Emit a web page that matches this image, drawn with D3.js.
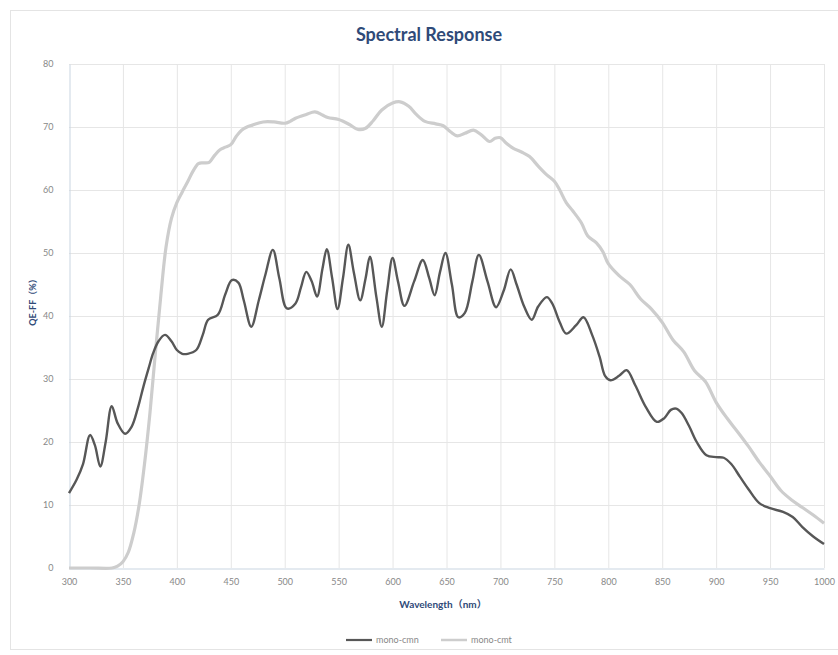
<!DOCTYPE html>
<html>
<head>
<meta charset="utf-8">
<script src="https://cdn.jsdelivr.net/npm/d3@7"></script>
<style>
  body { margin: 0; background: #fff; }
  text { font-family: Lato, "Noto Sans", "Noto Sans CJK SC", sans-serif; }
</style>
</head>
<body>
<script>
const width = 838;
const height = 655;

// mono-cmn (dark)
const cmnWavelength = [300, 307, 313, 319.5, 324, 329, 334, 339.6, 345, 352, 358, 364, 369, 374, 378, 383, 389, 395, 400, 405, 410, 418, 424, 429, 438, 445, 451, 457, 462, 469, 476, 482, 489, 495, 502, 510, 515, 520, 525, 530, 535, 539, 544, 549, 554, 559, 564, 570, 575, 579, 585, 590, 595, 600, 605, 611, 620, 628, 634, 639, 644, 649, 655, 661, 667, 674, 680, 688, 696, 703, 709.5, 715, 722, 729, 735, 743, 748, 755, 761, 770, 777, 785, 792, 797, 802, 810, 817, 825, 835, 845, 852, 858, 863, 868, 875, 882, 891, 900, 907, 914, 922, 930, 940, 950, 962, 971, 980, 990, 1000];
const cmnValues = [11.9, 14, 16.5, 21.1, 19.5, 16.1, 20, 25.7, 23, 21.3, 22.4, 25.5, 28.8, 31.8, 34.1, 36, 37, 36, 34.6, 34, 34, 34.6, 37, 39.4, 40.2, 43.5, 45.7, 45.3, 42.5, 38.3, 42.5, 46.5, 50.5, 46, 41.2, 42, 44.5, 47, 45.5, 43.1, 47.5, 50.6, 46, 41.1, 46, 51.3, 47, 42.5, 46, 49.4, 43, 38.3, 44, 49.2, 45.5, 41.6, 45.5, 48.9, 46, 43.3, 47, 50, 45, 39.8, 40.5, 45.5, 49.7, 45.5, 41.4, 44, 47.4, 45, 41.5, 39.4, 41.5, 43, 42, 39, 37.2, 38.5, 39.8, 37, 33.5, 30.5, 29.8, 30.5, 31.4, 29, 25.5, 23.2, 23.8, 25.1, 25.3, 24.6, 22.5, 20, 17.9, 17.6, 17.5, 16.5, 14.5, 12.5, 10.3, 9.5, 8.9, 8.1, 6.5, 5, 3.8];

// mono-cmt (light)
const cmtWavelength = [300, 320, 340, 345, 350, 355, 360, 365, 370, 375, 380, 385, 390, 395, 400, 405, 410, 415, 420, 425, 430, 435, 440, 445, 450, 455, 460, 465, 470, 480, 490, 500, 505, 510, 520, 528, 535, 540, 550, 560, 568, 575, 582, 590, 600, 607, 615, 622, 630, 640, 647, 654, 660, 667, 675, 682, 690, 695, 700, 705, 712, 720, 727, 735, 743, 750, 755, 761, 767, 775, 781, 789, 795, 800, 810, 820, 830, 840, 850, 860, 870, 880, 890, 900, 910, 920, 930, 940, 950, 960, 970, 980, 990, 1000];
const cmtValues = [0, 0, 0, 0.3, 1, 2.5, 5.5, 10, 16.5, 24.5, 34, 43, 51, 55.5, 58, 59.7, 61.3, 63, 64.2, 64.3, 64.4, 65.5, 66.4, 66.8, 67.2, 68.5, 69.5, 70, 70.3, 70.8, 70.8, 70.6, 70.9, 71.4, 72, 72.4, 71.9, 71.5, 71.2, 70.4, 69.6, 69.8, 71, 72.7, 73.8, 74, 73.3, 72, 70.9, 70.5, 70.2, 69.2, 68.6, 69, 69.5, 68.8, 67.7, 68.2, 68.3, 67.5, 66.6, 66, 65.3, 63.8, 62.4, 61.4, 60, 58, 56.7, 54.8, 52.7, 51.6, 50.2, 48.3, 46.4, 45, 42.7, 41.1, 39, 36.2, 34.3, 31.3, 29.6, 26.3, 23.8, 21.6, 19.3, 16.8, 14.6, 12.3, 10.8, 9.6, 8.4, 7.1];

const xTicks = d3.range(300, 1001, 50);
const yTicks = d3.range(0, 81, 10);
const seriesNames = ["mono-cmn", "mono-cmt"];
const seriesColors = ["#575757", "#cdcdcd"];

const svg = d3.select('body').append('svg')
  .attr('width', width)
  .attr('height', height);

// outer chart border
svg.append('rect')
  .attr('x', 10.5).attr('y', 10.5)
  .attr('width', 840).attr('height', 639)
  .attr('fill', 'none')
  .attr('stroke', '#e4e4e4');

const x = d3.scaleLinear().domain([300, 1000]).range([69, 824]);
const y = d3.scaleLinear().domain([0, 80]).range([568, 64]);

// gridlines
svg.append('g')
  .selectAll('line')
  .data(yTicks.filter(d => d > 0))
  .join('line')
  .attr('x1', x(300)).attr('x2', x(1000))
  .attr('y1', d => y(d) + 0.5).attr('y2', d => y(d) + 0.5)
  .attr('stroke', '#e6e6e6');

svg.append('g')
  .selectAll('line')
  .data(xTicks.filter(d => d > 300))
  .join('line')
  .attr('x1', d => x(d) + 0.5).attr('x2', d => x(d) + 0.5)
  .attr('y1', y(80)).attr('y2', y(0))
  .attr('stroke', '#e6e6e6');

// axes
const xAxis = svg.append('g')
  .attr('transform', `translate(0,${y(0) + 0.5})`)
  .call(d3.axisBottom(x).tickValues(xTicks).tickFormat(d3.format('d')).tickSize(0).tickPadding(10));
const yAxis = svg.append('g')
  .attr('transform', `translate(${x(300) + 0.5},0)`)
  .call(d3.axisLeft(y).tickValues(yTicks).tickSize(0).tickPadding(16));

[xAxis, yAxis].forEach(a => {
  a.select('.domain').attr('stroke', '#c9d5e1');
  a.selectAll('text').attr('fill', '#888').style('font-size', '9px');
});

// lines
const line = d3.line()
  .x(d => x(d[0]))
  .y(d => y(d[1]))
  .curve(d3.curveCatmullRom.alpha(0.5));

svg.append('path')
  .datum(d3.zip(cmtWavelength, cmtValues))
  .attr('d', line)
  .attr('fill', 'none')
  .attr('stroke', seriesColors[1])
  .attr('stroke-width', 3.2)
  .attr('stroke-linejoin', 'round');

svg.append('path')
  .datum(d3.zip(cmnWavelength, cmnValues))
  .attr('d', line)
  .attr('fill', 'none')
  .attr('stroke', seriesColors[0])
  .attr('stroke-width', 2.4)
  .attr('stroke-linejoin', 'round');

// title
svg.append('text')
  .attr('x', 429).attr('y', 41)
  .attr('text-anchor', 'middle')
  .attr('fill', '#2f4a78')
  .style('font-size', '18px')
  .style('font-weight', 'bold')
  .text('Spectral Response');

// axis titles
svg.append('text')
  .attr('x', 443).attr('y', 608)
  .attr('text-anchor', 'middle')
  .attr('fill', '#2f4a78')
  .style('font-size', '10px')
  .style('font-weight', 'bold')
  .text('Wavelength（nm）');

svg.append('text')
  .attr('transform', 'translate(36,300) rotate(-90)')
  .attr('text-anchor', 'middle')
  .attr('fill', '#2f4a78')
  .style('font-size', '9px')
  .style('font-weight', 'bold')
  .text('QE-FF（%）');

// legend
const legend = svg.append('g').attr('transform', 'translate(346,640)');
seriesNames.forEach((name, i) => {
  const g = legend.append('g').attr('transform', `translate(${i * 95},0)`);
  g.append('line')
    .attr('x1', 0).attr('x2', 26)
    .attr('y1', 0).attr('y2', 0)
    .attr('stroke', seriesColors[i])
    .attr('stroke-width', i === 0 ? 2.2 : 2.5);
  g.append('text')
    .attr('x', 30).attr('y', 3)
    .attr('fill', '#888')
    .style('font-size', '9px')
    .text(name);
});
</script>
</body>
</html>
